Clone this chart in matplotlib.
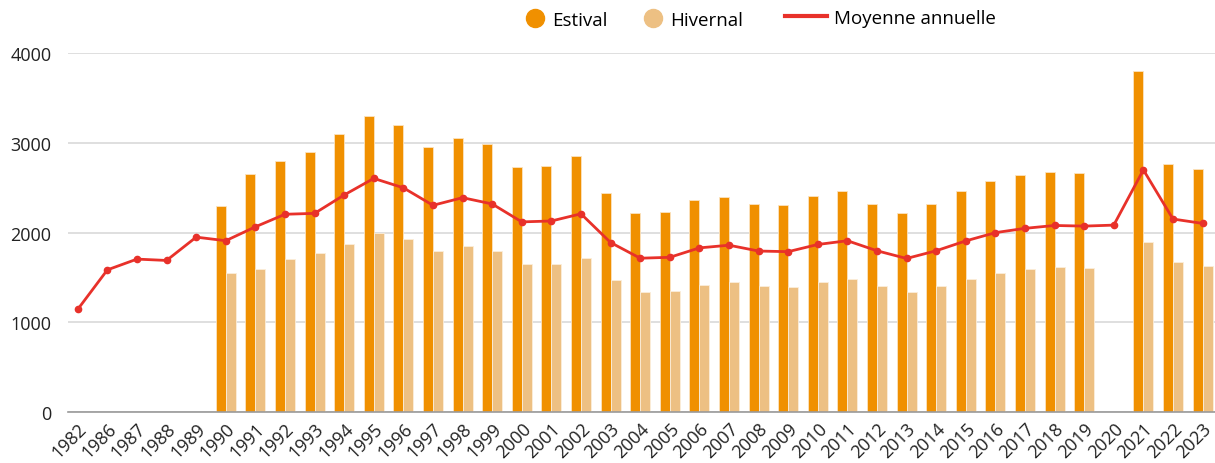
import numpy as np
import matplotlib.pyplot as plt
from matplotlib.lines import Line2D

plt.rcParams['font.family'] = ['Open Sans', 'DejaVu Sans']

# --- data -------------------------------------------------------------
years = ["1982", "1986", "1987", "1988", "1989"] + [str(y) for y in range(1990, 2024)]

nan = np.nan
estival = [nan, nan, nan, nan, nan,
           2300, 2650, 2800, 2900, 3100, 3300, 3200, 2960, 3060, 2990,
           2730, 2740, 2850, 2440, 2220, 2230, 2360, 2400, 2320, 2310,
           2410, 2460, 2320, 2220, 2320, 2460, 2580, 2640, 2680, 2670,
           nan, 3800, 2770, 2710]
hivernal = [nan, nan, nan, nan, nan,
            1550, 1600, 1710, 1770, 1870, 2000, 1930, 1790, 1850, 1800,
            1650, 1650, 1720, 1470, 1340, 1350, 1420, 1450, 1400, 1390,
            1450, 1480, 1400, 1340, 1400, 1480, 1550, 1590, 1620, 1610,
            nan, 1900, 1670, 1630]
moyenne = [1145, 1585, 1705, 1690, 1950,
           1910, 2065, 2205, 2215, 2420, 2605, 2500, 2305, 2390, 2320,
           2120, 2130, 2210, 1890, 1715, 1725, 1830, 1860, 1795, 1788,
           1868, 1910, 1798, 1712, 1798, 1908, 2000, 2048, 2080, 2073,
           2084, 2700, 2152, 2103]

C_EST = "#F09000"
C_HIV = "#EDC083"
C_MOY = "#E8312A"
W, H = 1215, 464

# --- figure -----------------------------------------------------------
fig = plt.figure(figsize=(W / 100, H / 100), dpi=100)
ax = fig.add_axes([68 / W, 1 - 413 / H, 1147 / W, (413 - 54.3) / H])

x = np.arange(len(years))
w = 0.34
ax.bar(x - w / 2, estival, width=w, color=C_EST, edgecolor="#FBE3C0", linewidth=0.6, zorder=2)
ax.bar(x + w / 2, hivernal, width=w, color=C_HIV, edgecolor="#FBEEDB", linewidth=0.6, zorder=2)
ax.plot(x, moyenne, color=C_MOY, lw=2.0, marker="o", ms=4.5, zorder=3)

ax.set_xlim(-0.33, len(years) - 1 + 0.42)
ax.set_ylim(0, 4000)
ax.set_yticks([0, 1000, 2000, 3000, 4000])
ax.set_xticks(x)
ax.set_xticklabels(years, rotation=45, ha="right", rotation_mode="anchor")

ax.grid(axis="y", color="#D9D9D9", lw=1.2, zorder=0)
ax.set_axisbelow(True)
for s in ["top", "right", "left"]:
    ax.spines[s].set_visible(False)
ax.spines["bottom"].set_color("#9A9A9A")
ax.spines["bottom"].set_linewidth(1.2)
ax.tick_params(axis="both", length=0, labelsize=13, colors="#222222")
ax.tick_params(axis="y", pad=12)
ax.tick_params(axis="x", pad=5)

# legend entries placed one by one along the top
fs = 13.5
entries = [
    (Line2D([], [], ls="none", marker="o", ms=13, color=C_EST), "Estival", 525.6, 21, 1.0, 0.4),
    (Line2D([], [], ls="none", marker="o", ms=13, color=C_HIV), "Hivernal", 643.6, 21, 1.0, 0.4),
    (Line2D([], [], color=C_MOY, lw=3), "Moyenne annuelle", 785, 19, 2.24, 0.35),
]
for h, lab, px, py, hl, tp in entries:
    fig.legend([h], [lab], loc="center left", bbox_to_anchor=(px / W, 1 - py / H),
               frameon=False, fontsize=fs, borderpad=0, borderaxespad=0,
               handlelength=hl, handletextpad=tp)

fig.savefig("out.png", dpi=100)
